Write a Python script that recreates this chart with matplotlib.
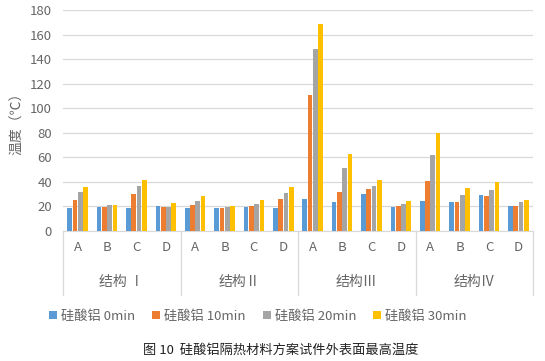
import matplotlib
matplotlib.use("Agg")
import matplotlib.pyplot as plt
import matplotlib.transforms as mtransforms
import numpy as np

plt.rcParams['font.family'] = ['Noto Sans CJK SC', 'DejaVu Sans']

groups = ["结构 Ⅰ", "结构Ⅱ", "结构Ⅲ", "结构Ⅳ"]
subcats = ["A", "B", "C", "D"]
series_names = ["硅酸铝 0min", "硅酸铝 10min", "硅酸铝 20min", "硅酸铝 30min"]
colors = ["#5B9BD5", "#ED7D31", "#A5A5A5", "#FFC000"]

t0 = [18.5, 19.6, 18.5, 20.4, 18.5, 18.5, 19.6, 18.5, 26.1, 23.4, 30.2, 19.6, 24.5, 23.4, 29.3, 20.4]
t10 = [25.3, 19.6, 30.4, 19.8, 21.5, 18.5, 20.4, 26.1, 110.6, 31.8, 34.2, 20.4, 40.8, 23.4, 28.3, 20.4]
t20 = [31.8, 21.2, 36.7, 19.8, 24.5, 19.6, 22.3, 31.3, 148.4, 51.4, 37.0, 22.3, 62.2, 29.1, 33.2, 23.4]
t30 = [36.1, 21.2, 41.6, 22.5, 28.3, 20.4, 25.3, 35.9, 168.8, 63.0, 41.6, 24.5, 79.9, 35.1, 40.0, 25.5]
series = [t0, t10, t20, t30]

fig = plt.figure(figsize=(5.45, 3.61), dpi=100)
ax = fig.add_axes([63/545, 1-231/361, 470/545, 221/361])

n = len(t0)
x = np.arange(n)
w = 0.16
step = 0.18
for i, (vals, c, name) in enumerate(zip(series, colors, series_names)):
    ax.bar(x + (i - 1.5) * step, vals, width=w, color=c, label=name, zorder=3)

ax.set_xlim(-0.5, n - 0.5)
ax.set_ylim(0, 180)
ax.set_yticks(np.arange(0, 181, 20))
ax.yaxis.grid(True, color="#d9d9d9", linewidth=0.9, zorder=0)
ax.set_axisbelow(True)
for s in ["left", "right", "top"]:
    ax.spines[s].set_visible(False)
ax.spines["bottom"].set_color("#d9d9d9")
ax.tick_params(axis="y", length=0, labelsize=9.5, labelcolor="#666666", pad=8)
ax.tick_params(axis="x", length=0, labelsize=9.5, labelcolor="#666666", pad=7)
ax.set_xticks(x)
ax.set_xticklabels(subcats * len(groups))

trans = mtransforms.blended_transform_factory(ax.transData, ax.transAxes)
for b in np.arange(-0.5, n, 4):
    ax.plot([b, b], [0, -64/221], transform=trans, color="#d9d9d9", linewidth=0.9, clip_on=False)
for gi, g in enumerate(groups):
    ax.text(gi*4 + 1.5, -51/221, g, transform=trans, ha="center", va="center", fontsize=10, color="#666666")

ax.set_ylabel("温度（℃）", fontsize=10, color="#666666", labelpad=4)

leg = fig.legend(loc="center", bbox_to_anchor=(258/545, 1-316/361), ncol=4, frameon=False,
                 fontsize=9.5, handlelength=0.6, handleheight=0.6, handletextpad=0.3,
                 columnspacing=1.3, labelcolor="#666666")

fig.text(281/545, 1-350/361, "图 10  硅酸铝隔热材料方案试件外表面最高温度", ha="center", va="center",
         fontsize=9.5, color="#222222")

fig.savefig("out.png", dpi=100)
